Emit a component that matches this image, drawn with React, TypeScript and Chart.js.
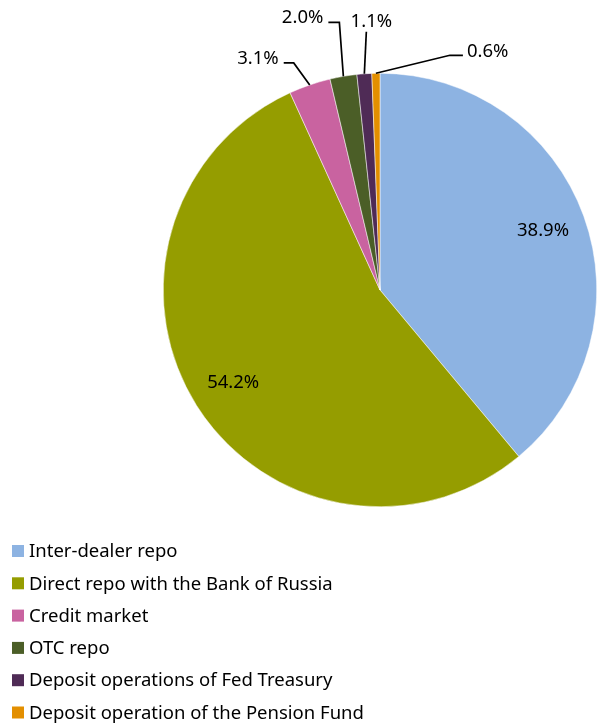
import React, { useEffect, useRef } from "react";
import { Chart, registerables } from "chart.js";

Chart.register(...registerables);

const categories = [
  "Inter-dealer repo",
  "Direct repo with the Bank of Russia",
  "Credit market",
  "OTC repo",
  "Deposit operations of Fed Treasury",
  "Deposit operation of the Pension Fund",
];
const shares = [38.9, 54.2, 3.1, 2.0, 1.1, 0.6];
const valueLabels = ["38.9%", "54.2%", "3.1%", "2.0%", "1.1%", "0.6%"];
const colors = ["#8DB3E2", "#959D00", "#C963A0", "#4B5E27", "#4F2B56", "#E38F00"];

// callout styling for the small slices (elbow offset from edge, horizontal tail, text align)
const callouts: Record<number, { ex: number; ey: number; hx: number; align: string }> = {
  2: { ex: -16, ey: -22, hx: -10, align: "right" },
  3: { ex: -4, ey: -54, hx: -11, align: "right" },
  4: { ex: 2, ey: -42, hx: 0, align: "center" },
  5: { ex: 74, ey: -18, hx: 13, align: "left" },
};

const FONT = '"Noto Sans", sans-serif';
const FONT_SIZE = 18.5;

const labelPlugin = {
  id: "labels",
  afterDatasetsDraw(chart: any) {
    const ctx = chart.ctx;
    const meta = chart.getDatasetMeta(0);
    ctx.save();
    ctx.font = `${FONT_SIZE}px ${FONT}`;
    ctx.fillStyle = "#000";
    ctx.strokeStyle = "#000";
    ctx.lineWidth = 1.7;
    meta.data.forEach((arc: any, i: number) => {
      const p = arc.getProps(["x", "y", "startAngle", "endAngle", "outerRadius"], true);
      const mid = (p.startAngle + p.endAngle) / 2;
      const c = callouts[i];
      if (!c) {
        const r = p.outerRadius * 0.8;
        ctx.textAlign = "center";
        ctx.textBaseline = "middle";
        ctx.fillText(valueLabels[i], p.x + Math.cos(mid) * r, p.y + Math.sin(mid) * r);
        return;
      }
      const x0 = p.x + Math.cos(mid) * p.outerRadius;
      const y0 = p.y + Math.sin(mid) * p.outerRadius;
      const x1 = x0 + c.ex;
      const y1 = y0 + c.ey;
      const x2 = x1 + c.hx;
      ctx.beginPath();
      ctx.moveTo(x0, y0);
      ctx.lineTo(x1, y1);
      ctx.lineTo(x2, y1);
      ctx.stroke();
      ctx.textBaseline = "alphabetic";
      if (c.align === "right") {
        ctx.textAlign = "right";
        ctx.fillText(valueLabels[i], x2 - 5, y1 + 1);
      } else if (c.align === "left") {
        ctx.textAlign = "left";
        ctx.fillText(valueLabels[i], x2 + 4, y1 + 2);
      } else {
        ctx.textAlign = "center";
        ctx.fillText(valueLabels[i], x2 + 5, y1 - 5);
      }
    });
    ctx.restore();
  },
};

const legendPlugin = {
  id: "customLegend",
  afterDraw(chart: any) {
    const ctx = chart.ctx;
    ctx.save();
    ctx.font = `${FONT_SIZE}px ${FONT}`;
    ctx.textAlign = "left";
    ctx.textBaseline = "middle";
    categories.forEach((name, i) => {
      const cy = 551 + i * 32.3;
      ctx.fillStyle = colors[i];
      ctx.fillRect(12, cy - 6, 12, 12);
      ctx.fillStyle = "#000";
      ctx.fillText(name, 29, cy + 1);
    });
    ctx.restore();
  },
};

export default function App() {
  const ref = useRef<HTMLCanvasElement>(null);
  useEffect(() => {
    if (!ref.current) return;
    const chart = new Chart(ref.current, {
      type: "pie",
      data: {
        labels: categories,
        datasets: [
          {
            data: shares,
            backgroundColor: colors,
            borderColor: "#fff",
            borderWidth: 0.5,
          },
        ],
      },
      options: {
        animation: false,
        responsive: false,
        maintainAspectRatio: false,
        layout: { padding: { left: 163, right: 7, top: 73, bottom: 220 } },
        plugins: { legend: { display: false }, tooltip: { enabled: false } },
      },
      plugins: [labelPlugin, legendPlugin],
    });
    return () => chart.destroy();
  }, []);
  return (
    <div style={{ position: "fixed", left: 0, top: 0, width: 604, height: 727, background: "#fff" }}>
      <canvas ref={ref} width={604} height={727} style={{ width: 604, height: 727 }} />
    </div>
  );
}
